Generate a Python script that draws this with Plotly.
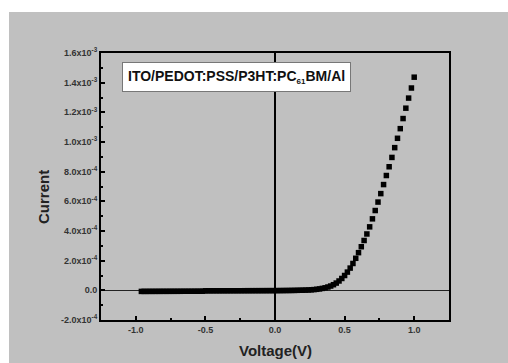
import plotly.graph_objects as go

# Voltage sweep (V)
voltage = [
    -0.96, -0.94, -0.92, -0.90, -0.88, -0.86, -0.84, -0.82, -0.80, -0.78,
    -0.76, -0.74, -0.72, -0.70, -0.68, -0.66, -0.64, -0.62, -0.60, -0.58,
    -0.56, -0.54, -0.52, -0.50, -0.48, -0.46, -0.44, -0.42, -0.40, -0.38,
    -0.36, -0.34, -0.32, -0.30, -0.28, -0.26, -0.24, -0.22, -0.20, -0.18,
    -0.16, -0.14, -0.12, -0.10, -0.08, -0.06, -0.04, -0.02, 0.00, 0.02,
    0.04, 0.06, 0.08, 0.10, 0.12, 0.14, 0.16, 0.18, 0.20, 0.22,
    0.24, 0.26, 0.28, 0.30, 0.32, 0.34, 0.36, 0.38, 0.40, 0.42,
    0.44, 0.46, 0.48, 0.50, 0.52, 0.54, 0.56, 0.58, 0.60, 0.62,
    0.64, 0.66, 0.68, 0.70, 0.72, 0.74, 0.76, 0.78, 0.80, 0.82,
    0.84, 0.86, 0.88, 0.90, 0.92, 0.94, 0.96, 0.98, 1.00,
]

# Current (A)
current = [
    -7.2e-6, -7.1e-6, -7.1e-6, -7.0e-6, -7.0e-6, -6.9e-6, -6.9e-6, -6.8e-6, -6.8e-6, -6.7e-6,
    -6.7e-6, -6.6e-6, -6.6e-6, -6.5e-6, -6.5e-6, -6.4e-6, -6.4e-6, -6.3e-6, -6.3e-6, -6.2e-6,
    -6.2e-6, -6.1e-6, -6.0e-6, -3.2e-6, -3.2e-6, -3.1e-6, -3.1e-6, -3.0e-6, -3.0e-6, -2.9e-6,
    -2.9e-6, -2.8e-6, -2.8e-6, -2.7e-6, -2.7e-6, -2.6e-6, -2.6e-6, -2.5e-6, -2.5e-6, -2.4e-6,
    -2.4e-6, -2.3e-6, -2.3e-6, -2.2e-6, -2.2e-6, -2.1e-6, -2.1e-6, -2.0e-6, -2.0e-6, -1.8e-6,
    -1.6e-6, -1.4e-6, -1.2e-6, -1.0e-6, -0.7e-6, -0.4e-6, 0.0e-6, 0.4e-6, 0.9e-6, 1.5e-6,
    2.3e-6, 3.5e-6, 5.0e-6, 7.0e-6, 9.5e-6, 13e-6, 17e-6, 22.5e-6, 29e-6, 38e-6,
    49e-6, 63e-6, 80e-6, 100e-6, 123e-6, 150e-6, 181e-6, 216e-6, 254e-6, 294e-6,
    336e-6, 380e-6, 428e-6, 482e-6, 538e-6, 595e-6, 652e-6, 713e-6, 774e-6, 833e-6,
    896e-6, 962e-6, 1025e-6, 1090e-6, 1158e-6, 1228e-6, 1296e-6, 1364e-6, 1437e-6,
]

x_tickvals = [-1.0, -0.5, 0.0, 0.5, 1.0]
x_ticktext = ["-1.0", "-0.5", "0.0", "0.5", "1.0"]
y_tickvals = [-2e-4, 0.0, 2e-4, 4e-4, 6e-4, 8e-4, 1.0e-3, 1.2e-3, 1.4e-3, 1.6e-3]
y_ticktext = ["-2.0x10<sup>-4</sup>", "0.0", "2.0x10<sup>-4</sup>", "4.0x10<sup>-4</sup>",
              "6.0x10<sup>-4</sup>", "8.0x10<sup>-4</sup>", "1.0x10<sup>-3</sup>",
              "1.2x10<sup>-3</sup>", "1.4x10<sup>-3</sup>", "1.6x10<sup>-3</sup>"]

label_text = "ITO/PEDOT:PSS/P3HT:PC<sub><span style='font-size:8px'>61</span></sub>BM/Al"
x_title = "Voltage(V)"
y_title = "Current"

GRAY = "#c0c0c0"
W, H = 508, 363
L, R, T, B = 101, 59, 53, 43
pw, ph = W - L - R, H - T - B

def px_x(px):
    return (px - L) / pw

def px_y(py):
    return (H - B - py) / ph

fig = go.Figure()
fig.add_trace(go.Scatter(
    x=voltage, y=current, mode="markers",
    marker=dict(symbol="square", size=5.5, color="black", line=dict(width=0)),
    showlegend=False,
))

fig.add_shape(type="rect", xref="paper", yref="paper",
              x0=px_x(9), x1=px_x(W + 5), y0=px_y(H + 5), y1=px_y(12),
              fillcolor=GRAY, line=dict(width=0), layer="below")

fig.add_annotation(
    text=label_text, xref="paper", yref="paper",
    x=px_x(122), y=px_y(62), xanchor="left", yanchor="top",
    showarrow=False, bgcolor="white", bordercolor="#777", borderwidth=1,
    borderpad=5,
    font=dict(family="Liberation Sans, Arial", size=14, color="#111", weight="bold"),
)

titlefont = dict(family="Liberation Sans, Arial", size=15, color="#222", weight="bold")
fig.add_annotation(
    text=x_title, xref="paper", yref="paper",
    x=px_x(275), y=px_y(350), xanchor="center", yanchor="middle",
    showarrow=False, font=titlefont,
)
fig.add_annotation(
    text=y_title, xref="paper", yref="paper",
    x=px_x(43), y=px_y(197), xanchor="center", yanchor="middle",
    textangle=-90, showarrow=False, font=titlefont,
)

tickfont = dict(family="Liberation Sans, Arial", size=9, color="#333", weight="bold")

fig.update_xaxes(
    range=[-1.25, 1.25], tickvals=x_tickvals, ticktext=x_ticktext,
    ticks="inside", ticklen=4, tickwidth=1.5, tickcolor="black",
    minor=dict(dtick=0.25, tick0=0, ticks="inside", ticklen=2, tickwidth=1.5, tickcolor="black"),
    showline=True, linecolor="black", linewidth=2, mirror=True,
    showgrid=False, zeroline=True, zerolinecolor="black", zerolinewidth=2,
    tickfont=tickfont,
)
fig.update_yaxes(
    range=[-2e-4, 1.6e-3], tickvals=y_tickvals, ticktext=y_ticktext,
    ticks="inside", ticklen=4, tickwidth=1.5, tickcolor="black",
    minor=dict(dtick=1e-4, tick0=0, ticks="inside", ticklen=2, tickwidth=1.5, tickcolor="black"),
    showline=True, linecolor="black", linewidth=2, mirror=True,
    showgrid=False, zeroline=True, zerolinecolor="#222", zerolinewidth=1.2,
    tickfont=tickfont,
)

fig.update_layout(
    width=W, height=H,
    margin=dict(l=L, r=R, t=T, b=B, autoexpand=False),
    paper_bgcolor="white", plot_bgcolor=GRAY,
)

fig.write_html("out.html")
